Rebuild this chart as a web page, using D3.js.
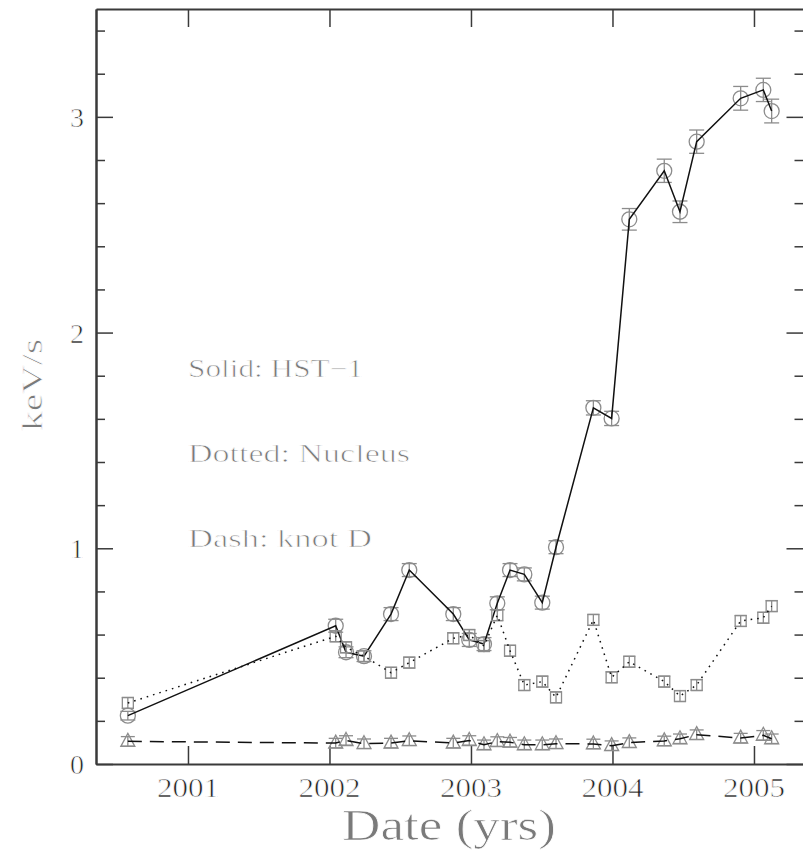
<!DOCTYPE html>
<html>
<head>
<meta charset="utf-8">
<script src="https://cdn.jsdelivr.net/npm/d3@7"></script>
<style>
  html, body { margin: 0; padding: 0; background: #fff; }
  svg { display: block; }
  text { font-family: "Liberation Serif", "Times New Roman", serif; }
  /* thin stroke in background colour lightens the glyph weight */
  text.thin { stroke: #fff; stroke-width: 0.7px; }
</style>
</head>
<body>
<svg id="chart" width="803" height="853"></svg>
<script>
// Observation epochs (decimal years)
const dates = [2000.575, 2002.044, 2002.117, 2002.244, 2002.435, 2002.564, 2002.875, 2002.988,
               2003.092, 2003.186, 2003.276, 2003.377, 2003.504, 2003.601, 2003.865, 2003.994,
               2004.119, 2004.366, 2004.477, 2004.595, 2004.906, 2005.066, 2005.125];

// HST-1 count rate (keV/s) and its 1-sigma error
const hst1 = [0.224, 0.641, 0.518, 0.500, 0.695, 0.899, 0.695, 0.575, 0.556, 0.745, 0.899, 0.879,
              0.748, 1.005, 1.651, 1.602, 2.525, 2.750, 2.560, 2.885, 3.086, 3.125, 3.027];
const hst1Err = [0.020, 0.030, 0.025, 0.025, 0.030, 0.030, 0.030, 0.030, 0.030, 0.030, 0.030, 0.030,
                 0.030, 0.030, 0.033, 0.033, 0.050, 0.054, 0.050, 0.054, 0.055, 0.054, 0.055];

// Nucleus
const nucleus = [0.283, 0.592, 0.541, 0.500, 0.423, 0.470, 0.583, 0.598, 0.547, 0.690, 0.525, 0.366,
                 0.382, 0.309, 0.668, 0.402, 0.474, 0.382, 0.315, 0.366, 0.663, 0.678, 0.732];
const nucleusErr = [0.025, 0.025, 0.025, 0.025, 0.025, 0.025, 0.025, 0.025, 0.025, 0.025, 0.025, 0.025,
                    0.025, 0.025, 0.025, 0.025, 0.025, 0.025, 0.025, 0.025, 0.025, 0.025, 0.025];

// knot D
const knotD = [0.105, 0.097, 0.109, 0.094, 0.097, 0.108, 0.097, 0.109, 0.089, 0.104, 0.101, 0.089,
               0.089, 0.094, 0.093, 0.085, 0.099, 0.107, 0.117, 0.136, 0.120, 0.133, 0.117];
const knotDErr = [0.022, 0.022, 0.022, 0.022, 0.022, 0.022, 0.022, 0.022, 0.022, 0.022, 0.022, 0.022,
                  0.022, 0.022, 0.022, 0.022, 0.022, 0.022, 0.022, 0.022, 0.022, 0.022, 0.022];

const yearTicks = [2001, 2002, 2003, 2004, 2005];
const yMajorTicks = [0, 1, 2, 3];
const legendLines = ["Solid: HST\u22121", "Dotted: Nucleus", "Dash: knot D"];

// ---- layout ----
const svg = d3.select("#chart");
const plotLeft = 96, plotRight = 803.5, plotTop = 9, plotBottom = 764;
const x = d3.scaleLinear().domain([2000.35, 2005.35]).range([plotLeft, plotRight]);
const y = d3.scaleLinear().domain([0, 3.5]).range([plotBottom, plotTop]);

const axisColor = "#3a3a3a";
const markColor = "#8c8c8c";
const titleColor = "#7a7a7a";

svg.append("rect").attr("width", 803).attr("height", 853).attr("fill", "#fff");

const yMinor = d3.range(0, 3.5001, 0.2).map(v => +v.toFixed(1)).filter(v => !yMajorTicks.includes(v));

function styleAxis(g) {
  g.selectAll("path.domain").attr("stroke", axisColor).attr("stroke-width", 2);
  g.selectAll(".tick line").attr("stroke", axisColor).attr("stroke-width", 1.5);
  g.selectAll(".tick text").remove();
}

// bottom / top axes: major year ticks pointing inward
svg.append("g").attr("transform", `translate(0,${plotBottom})`)
  .call(d3.axisBottom(x).tickValues(yearTicks).tickSizeInner(-18).tickSizeOuter(0))
  .call(styleAxis);
svg.append("g").attr("transform", `translate(0,${plotTop})`)
  .call(d3.axisTop(x).tickValues(yearTicks).tickSizeInner(-18).tickSizeOuter(0))
  .call(styleAxis);

// left / right axes: major and minor ticks
svg.append("g").attr("transform", `translate(${plotLeft},0)`)
  .call(d3.axisLeft(y).tickValues(yMajorTicks).tickSizeInner(-17).tickSizeOuter(0))
  .call(styleAxis);
svg.append("g").attr("transform", `translate(${plotLeft},0)`)
  .call(d3.axisLeft(y).tickValues(yMinor).tickSizeInner(-9).tickSizeOuter(0))
  .call(styleAxis);
svg.append("g").attr("transform", `translate(${plotRight},0)`)
  .call(d3.axisRight(y).tickValues(yMajorTicks).tickSizeInner(-17).tickSizeOuter(0))
  .call(styleAxis);
svg.append("g").attr("transform", `translate(${plotRight},0)`)
  .call(d3.axisRight(y).tickValues(yMinor).tickSizeInner(-9).tickSizeOuter(0))
  .call(styleAxis);

// tick labels
svg.append("g").selectAll("text").data(yearTicks).join("text")
  .attr("class", "thin")
  .attr("x", d => x(d)).attr("y", 797)
  .attr("text-anchor", "middle")
  .attr("font-size", 28).attr("fill", "#222")
  .attr("textLength", 62).attr("lengthAdjust", "spacingAndGlyphs")
  .text(d => d);
svg.append("g").selectAll("text").data(yMajorTicks).join("text")
  .attr("class", "thin")
  .attr("x", 84).attr("y", d => y(d) + 10)
  .attr("text-anchor", "end")
  .attr("font-size", 28).attr("fill", "#222")
  .text(d => d);

// axis titles
svg.append("text")
  .attr("class", "thin")
  .attr("x", 449).attr("y", 840)
  .attr("text-anchor", "middle")
  .attr("font-size", 44).attr("fill", titleColor)
  .attr("textLength", 214).attr("lengthAdjust", "spacingAndGlyphs")
  .text("Date (yrs)");
svg.append("text")
  .attr("class", "thin")
  .attr("transform", "translate(42,385) rotate(-90)")
  .attr("text-anchor", "middle")
  .attr("font-size", 29).attr("fill", titleColor)
  .attr("textLength", 92).attr("lengthAdjust", "spacingAndGlyphs")
  .text("keV/s");

// legend annotations
const legendWidths = [175, 222, 184];
svg.append("g").selectAll("text").data(legendLines).join("text")
  .attr("class", "thin")
  .attr("x", 188).attr("y", (d, i) => 377 + i * 85)
  .attr("font-size", 25).attr("fill", titleColor)
  .attr("textLength", (d, i) => legendWidths[i]).attr("lengthAdjust", "spacingAndGlyphs")
  .text(d => d);

// ---- series ----
const series = [
  { vals: hst1, err: hst1Err, dash: null, shape: "circle" },
  { vals: nucleus, err: nucleusErr, dash: "1.6 5", shape: "square" },
  { vals: knotD, err: knotDErr, dash: "14 8", shape: "triangle" }
];

const plot = svg.append("g");

series.forEach(s => {
  const pts = dates.map((d, i) => ({ d, v: s.vals[i], e: s.err[i] }));
  const g = plot.append("g");

  const capHalf = s.shape === "circle" ? 7.5 : s.shape === "square" ? 6 : 7;

  // error bars
  const eb = g.append("g").attr("stroke", markColor).attr("stroke-width", 1.3).attr("fill", "none");
  eb.selectAll("line.v").data(pts).join("line").attr("class", "v")
    .attr("x1", p => x(p.d)).attr("x2", p => x(p.d))
    .attr("y1", p => y(p.v - p.e)).attr("y2", p => y(p.v + p.e));
  eb.selectAll("line.lo").data(pts).join("line").attr("class", "lo")
    .attr("x1", p => x(p.d) - capHalf).attr("x2", p => x(p.d) + capHalf)
    .attr("y1", p => y(p.v - p.e)).attr("y2", p => y(p.v - p.e));
  eb.selectAll("line.hi").data(pts).join("line").attr("class", "hi")
    .attr("x1", p => x(p.d) - capHalf).attr("x2", p => x(p.d) + capHalf)
    .attr("y1", p => y(p.v + p.e)).attr("y2", p => y(p.v + p.e));

  // markers
  const mk = g.append("g").attr("stroke", markColor).attr("stroke-width", 1.3).attr("fill", "none");
  if (s.shape === "circle") {
    mk.selectAll("circle").data(pts).join("circle")
      .attr("cx", p => x(p.d)).attr("cy", p => y(p.v)).attr("r", 7.5);
  } else if (s.shape === "square") {
    mk.selectAll("rect").data(pts).join("rect")
      .attr("x", p => x(p.d) - 5.5).attr("y", p => y(p.v) - 5.5)
      .attr("width", 11).attr("height", 11);
  } else {
    mk.selectAll("path").data(pts).join("path")
      .attr("d", p => {
        const cx = x(p.d), cy = y(p.v);
        return `M${cx},${cy - 8}L${cx + 7},${cy + 5}L${cx - 7},${cy + 5}Z`;
      });
  }

  // connecting line
  const line = d3.line().x(p => x(p.d)).y(p => y(p.v));
  const path = g.append("path").datum(pts)
    .attr("d", line).attr("fill", "none")
    .attr("stroke", "#111").attr("stroke-width", 1.5);
  if (s.dash) path.attr("stroke-dasharray", s.dash);
});
</script>
</body>
</html>
